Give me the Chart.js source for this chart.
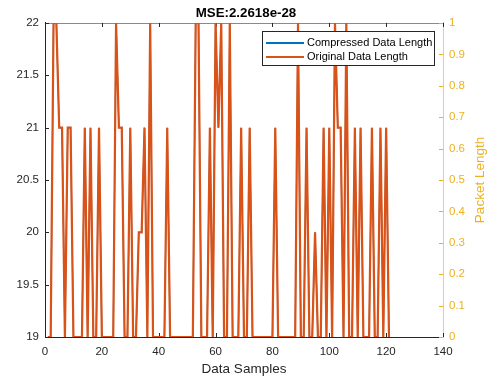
<!DOCTYPE html>
<html>
<head>
<meta charset="utf-8">
<script src="https://cdn.jsdelivr.net/npm/chart.js@4.4.1/dist/chart.umd.min.js"></script>
<style>
  html, body { margin: 0; padding: 0; background: #ffffff; }
  #wrap { width: 492px; height: 378px; }
</style>
</head>
<body>
<div id="wrap"><canvas id="c" width="492" height="378"></canvas></div>
<script>
// Per-sample lengths (sample n is element n-1)
const compressedLength = [
  19,19,22,22,21,21,19,21,21,19, 19,19,19,21,19,21,19,19,21,19,
  19,19,19,19,22,21,21,19,19,21, 19,19,20,20,21,19,22,19,19,19,
  19,19,21,19,19,19,19,19,19,19, 19,19,22,22,19,19,19,21,19,22,
  21,22,19,19,22,19,19,19,21,19, 19,21,19,19,19,19,19,19,19,19,
  21,19,19,19,19,19,19,19,22,19, 19,21,19,19,20,19,19,21,19,21,
  19,22,21,21,19,22,19,19,21,19, 21,19,19,19,21,19,19,21,19,21,
  19
];
const originalLength = [
  19,19,22,22,21,21,19,21,21,19, 19,19,19,21,19,21,19,19,21,19,
  19,19,19,19,22,21,21,19,19,21, 19,19,20,20,21,19,22,19,19,19,
  19,19,21,19,19,19,19,19,19,19, 19,19,22,22,19,19,19,21,19,22,
  21,22,19,19,22,19,19,19,21,19, 19,21,19,19,19,19,19,19,19,19,
  21,19,19,19,19,19,19,19,22,19, 19,21,19,19,20,19,19,21,19,21,
  19,22,21,21,19,22,19,19,21,19, 21,19,19,19,21,19,19,21,19,21,
  19
];
const seriesNames = ['Compressed Data Length', 'Original Data Length'];
const seriesColors = ['#0072BD', '#D95319'];
const xTickValues = [0, 20, 40, 60, 80, 100, 120, 140];
const leftTickValues = [19, 19.5, 20, 20.5, 21, 21.5, 22];
const rightTickValues = [0, 0.1, 0.2, 0.3, 0.4, 0.5, 0.6, 0.7, 0.8, 0.9, 1];
const chartTitle = 'MSE:2.2618e-28';
const xAxisTitle = 'Data Samples';
const rightAxisTitle = 'Packet Length';

const FONT = '"Liberation Sans", Arial, Helvetica, sans-serif';
const AXIS_DARK = '#262626';
const AXIS_YELLOW = '#EDB120';

const toPoints = arr => arr.map((v, i) => ({ x: i + 1, y: v }));

// Inward tick marks and the top edge of the box
const boxTicks = {
  id: 'boxTicks',
  beforeDatasetsDraw(chart) {
    const { ctx, chartArea: a, scales } = chart;
    const len = 4;
    ctx.save();
    ctx.lineWidth = 1;
    ctx.strokeStyle = '#8a8a8a';
    ctx.beginPath();
    ctx.moveTo(a.left, Math.round(a.top) + 0.5);
    ctx.lineTo(a.right, Math.round(a.top) + 0.5);
    ctx.stroke();

    ctx.strokeStyle = AXIS_DARK;
    ctx.beginPath();
    scales.x.ticks.forEach(t => {
      const px = Math.round(scales.x.getPixelForValue(t.value)) + 0.5;
      ctx.moveTo(px, a.bottom); ctx.lineTo(px, a.bottom - len);
      ctx.moveTo(px, a.top); ctx.lineTo(px, a.top + len);
    });
    scales.y.ticks.forEach(t => {
      const py = Math.round(scales.y.getPixelForValue(t.value)) + 0.5;
      ctx.moveTo(a.left, py); ctx.lineTo(a.left + len, py);
    });
    ctx.stroke();

    ctx.strokeStyle = AXIS_YELLOW;
    ctx.beginPath();
    scales.y1.ticks.forEach(t => {
      const py = Math.round(scales.y1.getPixelForValue(t.value)) + 0.5;
      ctx.moveTo(a.right, py); ctx.lineTo(a.right - len, py);
    });
    ctx.stroke();
    ctx.restore();
  },
  afterDraw(chart) {
    // Right axis title, reading bottom to top
    const { ctx, chartArea: a } = chart;
    ctx.save();
    ctx.fillStyle = AXIS_YELLOW;
    ctx.font = '13.5px ' + FONT;
    ctx.textAlign = 'center';
    ctx.textBaseline = 'middle';
    ctx.translate(480, (a.top + a.bottom) / 2);
    ctx.rotate(-Math.PI / 2);
    ctx.fillText(rightAxisTitle, 0, 0);
    ctx.restore();
  }
};

// Boxed legend in the upper-right corner of the plot
const boxLegend = {
  id: 'boxLegend',
  afterDatasetsDraw(chart) {
    const { ctx, chartArea: a } = chart;
    const w = 172, h = 34;
    const x0 = Math.round(a.right - 9 - w) + 0.5;
    const y0 = Math.round(a.top + 8) + 0.5;
    ctx.save();
    ctx.fillStyle = '#ffffff';
    ctx.fillRect(x0, y0, w, h);
    ctx.strokeStyle = AXIS_DARK;
    ctx.lineWidth = 1;
    ctx.strokeRect(x0, y0, w, h);
    ctx.font = '11px ' + FONT;
    ctx.textBaseline = 'middle';
    ctx.textAlign = 'left';
    chart.data.datasets.forEach((ds, i) => {
      const cy = y0 + 11.5 + i * 14;
      ctx.strokeStyle = ds.borderColor;
      ctx.lineWidth = 2;
      ctx.beginPath();
      ctx.moveTo(x0 + 3.5, cy);
      ctx.lineTo(x0 + 41.5, cy);
      ctx.stroke();
      ctx.fillStyle = '#000000';
      ctx.fillText(ds.label, x0 + 44.5, cy);
    });
    ctx.restore();
  }
};

new Chart(document.getElementById('c'), {
  type: 'line',
  data: {
    datasets: [
      { label: seriesNames[0], data: toPoints(compressedLength), borderColor: seriesColors[0],
        backgroundColor: seriesColors[0], borderWidth: 1.2, pointRadius: 0, tension: 0,
        yAxisID: 'y', clip: 0, order: 2 },
      { label: seriesNames[1], data: toPoints(originalLength), borderColor: seriesColors[1],
        backgroundColor: seriesColors[1], borderWidth: 2.2, pointRadius: 0, tension: 0,
        yAxisID: 'y', clip: 0, order: 1 }
    ]
  },
  options: {
    responsive: false,
    animation: false,
    devicePixelRatio: 1,
    layout: { padding: 0 },
    plugins: {
      legend: { display: false },
      tooltip: { enabled: false },
      title: {
        display: true, text: chartTitle, color: '#000000',
        font: { family: FONT, size: 13.3, weight: 'bold' },
        padding: { top: 5.6, bottom: 1.4 }
      }
    },
    scales: {
      x: {
        type: 'linear', position: 'bottom', min: 0, max: 140,
        afterBuildTicks: s => { s.ticks = xTickValues.map(v => ({ value: v })); },
        afterFit: s => { s.height = 41; },
        grid: { display: false, drawTicks: false },
        border: { display: true, color: AXIS_DARK, width: 1 },
        ticks: { color: AXIS_DARK, font: { family: FONT, size: 11.5 }, padding: 8, maxRotation: 0, autoSkip: false },
        title: { display: true, text: xAxisTitle, color: AXIS_DARK,
                 font: { family: FONT, size: 13.5 }, padding: { top: 0, bottom: 0.5 } }
      },
      y: {
        type: 'linear', position: 'left', min: 19, max: 22,
        afterBuildTicks: s => { s.ticks = leftTickValues.map(v => ({ value: v })); },
        afterFit: s => { s.width = 45; },
        grid: { display: false, drawTicks: false },
        border: { display: true, color: AXIS_DARK, width: 1 },
        ticks: { color: AXIS_DARK, font: { family: FONT, size: 11.5 }, padding: 6, autoSkip: false,
                 callback: v => String(v) }
      },
      y1: {
        type: 'linear', position: 'right', min: 0, max: 1, display: true,
        afterBuildTicks: s => { s.ticks = rightTickValues.map(v => ({ value: v })); },
        afterFit: s => { s.width = 49; },
        grid: { display: false, drawTicks: false },
        border: { display: true, color: '#F3CD75', width: 1 },
        ticks: { color: AXIS_YELLOW, font: { family: FONT, size: 11.5 }, padding: 6, autoSkip: false,
                 callback: v => (v === 0 || v === 1) ? String(v) : v.toFixed(1) }
      }
    }
  },
  plugins: [boxTicks, boxLegend]
});
</script>
</body>
</html>
